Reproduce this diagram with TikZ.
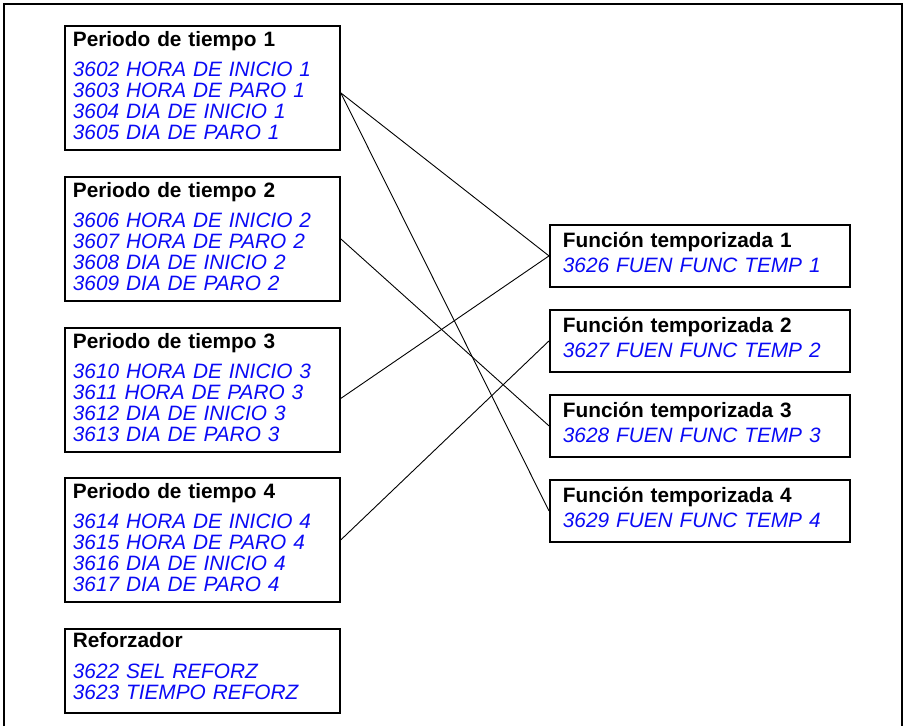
\documentclass[tikz,border=0pt]{standalone}
\usepackage{fontspec}
\setmainfont{Liberation Sans}
\definecolor{parblue}{RGB}{10,10,245}
% espacio extra debajo del texto
\newcommand{\boxtail}[1]{\par\vspace{#1}\nointerlineskip\null}
\begin{document}
\begin{tikzpicture}[x=1pt,y=-1pt,
  period/.style={draw,line width=1.8pt,anchor=north west,minimum width=275pt,
    minimum height=124pt,inner xsep=8pt,inner ysep=0pt,text width=259pt,align=left,
    font=\fontsize{20.8}{21}\selectfont},
  timer/.style={draw,line width=1.8pt,anchor=north west,minimum width=300pt,
    minimum height=62pt,inner xsep=13pt,inner ysep=0pt,text width=274pt,align=left,
    font=\fontsize{20.8}{21}\selectfont},
  link/.style={line width=0.9pt}]
\useasboundingbox (0,0) rectangle (904,726);
\draw[line width=1.6pt] (4,726) -- (4,4) -- (902,4) -- (902,726);

% periodos de tiempo
\node[period] (p1) at (64,25) {\textbf{Periodo de tiempo 1}\\[9pt]\color{parblue}\itshape
  3602 HORA DE INICIO 1\\3603 HORA DE PARO 1\\3604 DIA DE INICIO 1\\3605 DIA DE PARO 1\boxtail{4pt}};
\node[period] (p2) at (64,176) {\textbf{Periodo de tiempo 2}\\[9pt]\color{parblue}\itshape
  3606 HORA DE INICIO 2\\3607 HORA DE PARO 2\\3608 DIA DE INICIO 2\\3609 DIA DE PARO 2\boxtail{4pt}};
\node[period] (p3) at (64,327) {\textbf{Periodo de tiempo 3}\\[9pt]\color{parblue}\itshape
  3610 HORA DE INICIO 3\\3611 HORA DE PARO 3\\3612 DIA DE INICIO 3\\3613 DIA DE PARO 3\boxtail{4pt}};
\node[period] (p4) at (64,477) {\textbf{Periodo de tiempo 4}\\[9pt]\color{parblue}\itshape
  3614 HORA DE INICIO 4\\3615 HORA DE PARO 4\\3616 DIA DE INICIO 4\\3617 DIA DE PARO 4\boxtail{4pt}};
\node[period,minimum height=84pt] (boost) at (64,628) {\textbf{Reforzador}\\[10pt]\color{parblue}\itshape
  3622 SEL REFORZ\\3623 TIEMPO REFORZ\boxtail{9pt}};

% funciones temporizadas
\node[timer] (f1) at (549,224) {\textbf{Función temporizada 1}\\[4pt]\color{parblue}\itshape 3626 FUEN FUNC TEMP 1\boxtail{6pt}};
\node[timer] (f2) at (549,309) {\textbf{Función temporizada 2}\\[4pt]\color{parblue}\itshape 3627 FUEN FUNC TEMP 2\boxtail{6pt}};
\node[timer] (f3) at (549,394) {\textbf{Función temporizada 3}\\[4pt]\color{parblue}\itshape 3628 FUEN FUNC TEMP 3\boxtail{6pt}};
\node[timer] (f4) at (549,479) {\textbf{Función temporizada 4}\\[4pt]\color{parblue}\itshape 3629 FUEN FUNC TEMP 4\boxtail{6pt}};

\draw[link] ([yshift=-5pt]p1.east) -- (f1.west);
\draw[link] ([yshift=-5pt]p1.east) -- (f4.west);
\draw[link] (p2.east) -- (f3.west);
\draw[link] ([yshift=-8.5pt]p3.east) -- (f1.west);
\draw[link] (p4.east) -- (f2.west);
\end{tikzpicture}
\end{document}
